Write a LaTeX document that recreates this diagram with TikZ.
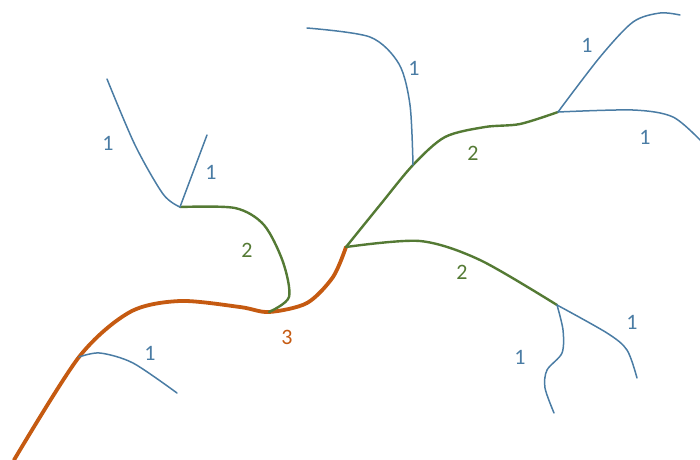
\documentclass[tikz,border=0pt]{standalone}
\usepackage{fontspec}
\setsansfont{Carlito}
\definecolor{ordA}{RGB}{74,124,164}
\definecolor{ordB}{RGB}{84,122,52}
\definecolor{ordC}{RGB}{197,90,17}

\begin{document}
\begin{tikzpicture}[x=1pt,y=-1pt]
\tikzset{
  order1/.style={draw=ordA,line width=1.5pt,line cap=round},
  order2/.style={draw=ordB,line width=2.4pt,line cap=round},
  order3/.style={draw=ordC,line width=3.8pt,line cap=round},
  orderlabel/.style={font=\sffamily\fontsize{22}{24}\selectfont,inner sep=0pt}
}
\useasboundingbox (0,0) rectangle (700,459);
% junctions
\coordinate (j_out) at (14,460);
\coordinate (j_low) at (79,357);
\coordinate (j_mid) at (269,312);
\coordinate (j_top) at (346,247);
\coordinate (j_left) at (180,207);
\coordinate (j_up) at (413,165);
\coordinate (j_ne) at (558,112);
\coordinate (j_se) at (557,305);
% sources
\coordinate (s_a) at (107,79);
\coordinate (s_b) at (207,135);
\coordinate (s_c) at (307,28);
\coordinate (s_d) at (680,15);
\coordinate (s_e) at (702,142);
\coordinate (s_f) at (554,413);
\coordinate (s_g) at (637,378);
\coordinate (s_h) at (177,393);
% order 3
\draw[order3] plot[smooth] coordinates {(j_out) (j_low) (130,312) (180,301) (240,307) (j_mid) (307,303) (333,277) (j_top)};
% order 2
\draw[order2] plot[smooth] coordinates {(j_mid) (289,297) (283,262) (264,225) (235,208) (j_left)};
\draw[order2] plot[smooth] coordinates {(j_top) (380,205) (j_up) (445,137) (485,127) (520,124) (j_ne)};
\draw[order2] plot[smooth] coordinates {(j_top) (420,241) (480,260) (j_se)};
% order 1
\draw[order1] plot[smooth] coordinates {(j_left) (163,194) (135,145) (s_a)};
\draw[order1] (j_left) -- (s_b);
\draw[order1] plot[smooth] coordinates {(j_up) (410,105) (399,64) (370,37) (s_c)};
\draw[order1] plot[smooth] coordinates {(j_ne) (600,57) (633,22) (660,13) (s_d)};
\draw[order1] plot[smooth] coordinates {(j_ne) (633,110) (673,117) (s_e)};
\draw[order1] plot[smooth] coordinates {(j_se) (563,330) (562,353) (547,370) (545,388) (s_f)};
\draw[order1] plot[smooth] coordinates {(j_se) (607,333) (627,350) (s_g)};
\draw[order1] plot[smooth] coordinates {(j_low) (100,353) (133,363) (s_h)};
% labels
\node[orderlabel,text=ordA] (l_a) at (108,143) {1};
\node[orderlabel,text=ordA] (l_b) at (211,172) {1};
\node[orderlabel,text=ordA] (l_c) at (414,68) {1};
\node[orderlabel,text=ordA] (l_d) at (587,45) {1};
\node[orderlabel,text=ordA] (l_e) at (645,137) {1};
\node[orderlabel,text=ordA] (l_f) at (520,357) {1};
\node[orderlabel,text=ordA] (l_g) at (632,322) {1};
\node[orderlabel,text=ordA] (l_h) at (150,353) {1};
\node[orderlabel,text=ordB] (l_i) at (247,250) {2};
\node[orderlabel,text=ordB] (l_j) at (473,153) {2};
\node[orderlabel,text=ordB] (l_k) at (462,272) {2};
\node[orderlabel,text=ordC] (l_m) at (287,337) {3};
\end{tikzpicture}
\end{document}
